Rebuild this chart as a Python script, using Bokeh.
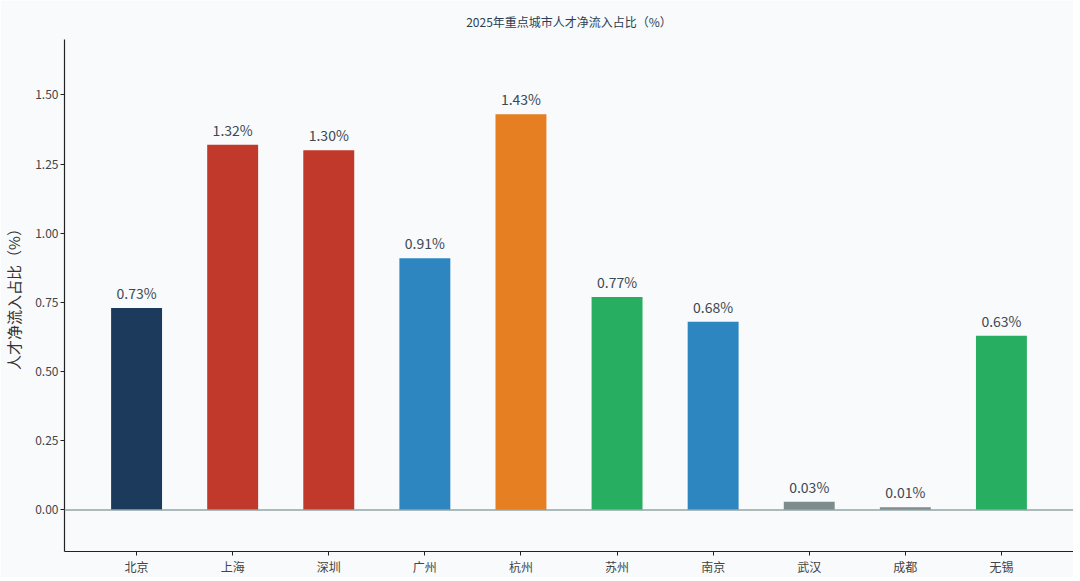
from bokeh.plotting import figure
from bokeh.models import ColumnDataSource, FactorRange, Range1d, FixedTicker, PrintfTickFormatter, Span, LabelSet
from bokeh.core.properties import value
from bokeh.embed import file_html
from bokeh.resources import INLINE

cities = ["北京", "上海", "深圳", "广州", "杭州", "苏州", "南京", "武汉", "成都", "无锡"]
values = [0.73, 1.32, 1.30, 0.91, 1.43, 0.77, 0.68, 0.03, 0.01, 0.63]
colors = ["#1b3a5c", "#c0392b", "#c0392b", "#2e86c1", "#e67e22",
          "#27ae60", "#2e86c1", "#7f8c8d", "#7f8c8d", "#27ae60"]
y_ticks = [0.0, 0.25, 0.5, 0.75, 1.0, 1.25, 1.5]
title_text = "2025年重点城市人才净流入占比（%）"
y_label = "人才净流入占比（%）"

FONT = "Noto Sans CJK SC"
BG = "#f8fafc"

src = ColumnDataSource(dict(city=cities, val=values, color=colors,
                            label=[f"{v:.2f}%" for v in values]))

p = figure(frame_width=1009, frame_height=512, output_backend="svg", toolbar_location=None,
           x_range=FactorRange(factors=cities, range_padding=0.25, range_padding_units="absolute"),
           y_range=Range1d(-0.15, 1.70),
           title=title_text,
           min_border_left=55, min_border_right=0, min_border_top=30, min_border_bottom=16)

p.background_fill_color = BG
p.border_fill_color = BG
p.outline_line_color = None
p.xgrid.grid_line_color = None
p.ygrid.grid_line_color = None

p.title.align = "center"
p.title.text_font = FONT
p.title.text_font_size = "12px"
p.title.text_font_style = "normal"
p.title.text_color = "#2c3e50"
p.title.standoff = 20
p.title.text_line_height = 0.9

p.vbar(x="city", top="val", width=0.53, fill_color="color", line_color=None, source=src)

zero = Span(location=0, dimension="width", line_color="#95a5a6", line_width=1.5)
p.add_layout(zero)

labels = LabelSet(x="city", y="val", text="label", source=src, y_offset=5,
                  text_align="center", text_baseline="bottom",
                  text_font=value(FONT), text_font_size=value("14px"), text_color=value("#3d4852"))
p.add_layout(labels)

p.yaxis.ticker = FixedTicker(ticks=y_ticks)
p.yaxis.formatter = PrintfTickFormatter(format="%.2f")
p.yaxis.axis_label = y_label
p.yaxis.axis_label_text_font = FONT
p.yaxis.axis_label_text_font_size = "15px"
p.yaxis.axis_label_text_font_style = "normal"
p.yaxis.axis_label_text_color = "#333333"
p.yaxis.axis_label_standoff = 8

for ax in (p.xaxis, p.yaxis):
    ax.axis_line_color = "#222222"
    ax.axis_line_width = 1.2
    ax.major_tick_line_color = "#222222"
    ax.major_tick_out = 4
    ax.major_tick_in = 0
    ax.minor_tick_line_color = None
    ax.major_label_text_font = FONT
    ax.major_label_text_font_size = "12px"
    ax.major_label_text_color = "#444444"
    ax.major_label_standoff = 2

p.xaxis.group_text_font_size = "0px"

open("out.html", "w").write(file_html(p, INLINE))
